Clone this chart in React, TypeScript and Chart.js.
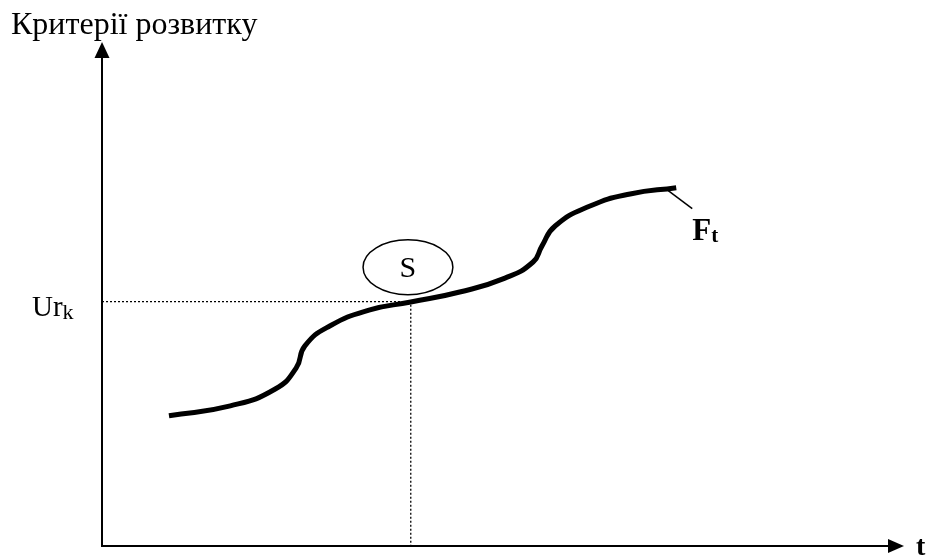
import React, { useEffect, useRef } from "react";
import { Chart, registerables } from "chart.js";

Chart.register(...registerables);

// Curve F_t : development criteria over time t (arbitrary units 0..100)
const curveT = [8.35, 16.0, 21.6, 24.2, 25.3, 28.4, 33.4, 38.5, 44.6, 50.25, 53.75, 54.85, 56.5, 60.85, 65.85, 71.6];
const curveY = [25.85, 27.8, 31.15, 35.3, 39.7, 43.65, 46.85, 48.4, 50.4, 53.15, 56.35, 59.5, 63.5, 67.45, 69.85, 71.1];

// Reference level Ur_k and the moment it is reached
const urLevel = 48.5;
const urTime = 38.5;

// Ellipse "S" (centre and radii, in data units)
const sCenter = { t: 38.15, y: 55.3 };
const sRadius = { t: 5.6, y: 5.45 };

const yTitle = "Критерії розвитку";
const xTitle = "t";
const urLabel = "Ur";
const urSub = "k";
const sLabel = "S";
const fLabel = "F";
const fSub = "t";

const SERIF = '"Liberation Serif", "Times New Roman", serif';

const overlayPlugin = {
  id: "overlay",
  afterDatasetsDraw(chart: any) {
    const { ctx, chartArea, scales } = chart;
    const xs = scales.x;
    const ys = scales.y;
    const L = chartArea.left;
    const B = chartArea.bottom;
    const T = chartArea.top;
    const R = chartArea.right;
    ctx.save();
    ctx.strokeStyle = "#000";
    ctx.fillStyle = "#000";
    // axes
    ctx.lineWidth = 2;
    ctx.beginPath();
    ctx.moveTo(L, B);
    ctx.lineTo(L, T + 14);
    ctx.moveTo(L - 1, B);
    ctx.lineTo(R - 14, B);
    ctx.stroke();
    // arrows
    ctx.beginPath();
    ctx.moveTo(L, T);
    ctx.lineTo(L - 7.5, T + 16);
    ctx.lineTo(L + 7.5, T + 16);
    ctx.closePath();
    ctx.fill();
    ctx.beginPath();
    ctx.moveTo(R, B);
    ctx.lineTo(R - 16, B - 7);
    ctx.lineTo(R - 16, B + 7);
    ctx.closePath();
    ctx.fill();

    // ellipse S
    const cx = xs.getPixelForValue(sCenter.t);
    const cy = ys.getPixelForValue(sCenter.y);
    const rx = Math.abs(xs.getPixelForValue(sCenter.t + sRadius.t) - cx);
    const ry = Math.abs(ys.getPixelForValue(sCenter.y + sRadius.y) - cy);
    ctx.lineWidth = 1.5;
    ctx.beginPath();
    ctx.ellipse(cx, cy, rx, ry, 0, 0, Math.PI * 2);
    ctx.stroke();

    // leader line to F_t
    const endT = curveT[curveT.length - 1];
    const endY = curveY[curveY.length - 1];
    const ex = xs.getPixelForValue(endT) - 8;
    const ey = ys.getPixelForValue(endY) + 3;
    ctx.lineWidth = 1.5;
    ctx.beginPath();
    ctx.moveTo(ex, ey);
    ctx.lineTo(ex + 24, ey + 18);
    ctx.stroke();

    // texts
    ctx.textBaseline = "alphabetic";
    ctx.textAlign = "left";
    ctx.font = `32px ${SERIF}`;
    ctx.fillText(yTitle, 11, 34);

    const uy = ys.getPixelForValue(urLevel);
    ctx.font = `29px ${SERIF}`;
    ctx.fillText(urLabel, 32, uy + 14);
    const uw = ctx.measureText(urLabel).width;
    ctx.font = `22px ${SERIF}`;
    ctx.fillText(urSub, 32 + uw, uy + 17);

    ctx.font = `30px ${SERIF}`;
    ctx.textAlign = "center";
    ctx.fillText(sLabel, cx, cy + 10);

    ctx.textAlign = "left";
    ctx.font = `bold 31px ${SERIF}`;
    ctx.fillText(fLabel, ex + 24, 240);
    const fw = ctx.measureText(fLabel).width;
    ctx.font = `bold 21px ${SERIF}`;
    ctx.fillText(fSub, ex + 24 + fw, 242);

    ctx.font = `bold 28px ${SERIF}`;
    ctx.fillText(xTitle, R + 12, B + 9);
    ctx.restore();
  },
};

export default function App() {
  const ref = useRef<HTMLCanvasElement | null>(null);
  useEffect(() => {
    if (!ref.current) return;
    const chart = new Chart(ref.current, {
      type: "line",
      data: {
        datasets: [
          {
            label: "Ur_k",
            data: [
              { x: 0, y: urLevel },
              { x: urTime, y: urLevel },
              { x: urTime, y: 0 },
            ],
            borderColor: "#000",
            borderWidth: 1.3,
            borderDash: [2, 2],
            pointRadius: 0,
            tension: 0,
          },
          {
            label: "F_t",
            data: curveT.map((t, i) => ({ x: t, y: curveY[i] })),
            borderColor: "#000",
            borderWidth: 5,
            borderCapStyle: "butt",
            borderJoinStyle: "round",
            pointRadius: 0,
            tension: 0.5,
          },
        ],
      },
      options: {
        responsive: false,
        animation: false,
        events: [],
        layout: { padding: { left: 102, right: 28, top: 42, bottom: 10 } },
        plugins: { legend: { display: false }, tooltip: { enabled: false } },
        scales: {
          x: { type: "linear", min: 0, max: 100, display: false },
          y: { type: "linear", min: 0, max: 100, display: false },
        },
      },
      plugins: [overlayPlugin],
    } as any);
    return () => chart.destroy();
  }, []);
  return (
    <div style={{ position: "absolute", left: 0, top: 0, width: 932, height: 556, background: "#fff" }}>
      <canvas ref={ref} width={932} height={556} style={{ display: "block" }} />
    </div>
  );
}
